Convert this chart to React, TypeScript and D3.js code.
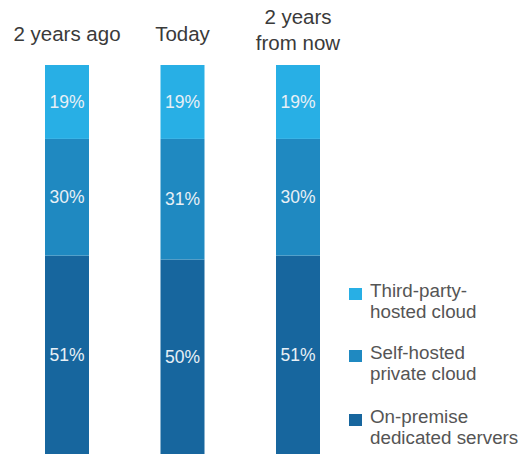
import React from "react";
import * as d3 from "d3";

const categories = ["2 years ago", "Today", "2 years from now"];
const titleLines = [["2 years ago"], ["Today"], ["2 years", "from now"]];
const seriesNames = ["On-premise dedicated servers", "Self-hosted private cloud", "Third-party-hosted cloud"];
const legendLines = [["Third-party-", "hosted cloud"], ["Self-hosted", "private cloud"], ["On-premise", "dedicated servers"]];
const onPremise = [51, 50, 51];
const selfHosted = [30, 31, 30];
const thirdParty = [19, 19, 19];
const colors = ["#17669e", "#1f89c1", "#28afe5"];

const W = 521;
const H = 454;
const FONT = "'Liberation Sans', Arial, sans-serif";

export default function App() {
  const rows = categories.map((c, i) => ({
    cat: c,
    a: onPremise[i],
    b: selfHosted[i],
    c: thirdParty[i],
  }));
  const stack = d3.stack<any>().keys(["a", "b", "c"]);
  const series = stack(rows);
  const x = d3.scalePoint<string>().domain(categories).range([67, 298]);
  const y = d3.scaleLinear().domain([0, 100]).range([454, 65]);
  const bw = 44;
  const legendColorOrder = [2, 1, 0];
  const legendY = [288, 350, 414];

  return (
    <svg width={W} height={H} style={{ position: "absolute", left: 0, top: 0, display: "block" }} fontFamily={FONT}>
      <rect width={W} height={H} fill="#ffffff" />
      {titleLines.map((lines, i) => {
        const baseY = lines.length === 1 ? 41 : 24;
        return (
          <text key={i} textAnchor="middle" fontSize={20.5} fill="#3a3a3a">
            {lines.map((l, j) => (
              <tspan key={j} x={x(categories[i])} y={baseY + j * 26}>{l}</tspan>
            ))}
          </text>
        );
      })}
      {series.map((s, si) => (
        <g key={si}>
          {s.map((d, i) => {
            const cx = x(categories[i]) as number;
            const y0 = y(d[0]);
            const y1 = y(d[1]);
            const val = d[1] - d[0];
            return (
              <g key={i}>
                <rect x={cx - bw / 2} y={y1} width={bw} height={y0 - y1} fill={colors[si]} />
                <text x={cx} y={(y0 + y1) / 2 + 6} textAnchor="middle" fontSize={17.5} fill="#e8f0f6">
                  {val}%
                </text>
              </g>
            );
          })}
        </g>
      ))}
      {legendLines.map((lines, i) => (
        <g key={i}>
          <rect x={349} y={legendY[i]} width={13} height={12} fill={colors[legendColorOrder[i]]} />
          <text fontSize={18.8} fill="#555555">
            {lines.map((l, j) => (
              <tspan key={j} x={370} y={legendY[i] + 9 + j * 21}>{l}</tspan>
            ))}
          </text>
        </g>
      ))}
    </svg>
  );
}
